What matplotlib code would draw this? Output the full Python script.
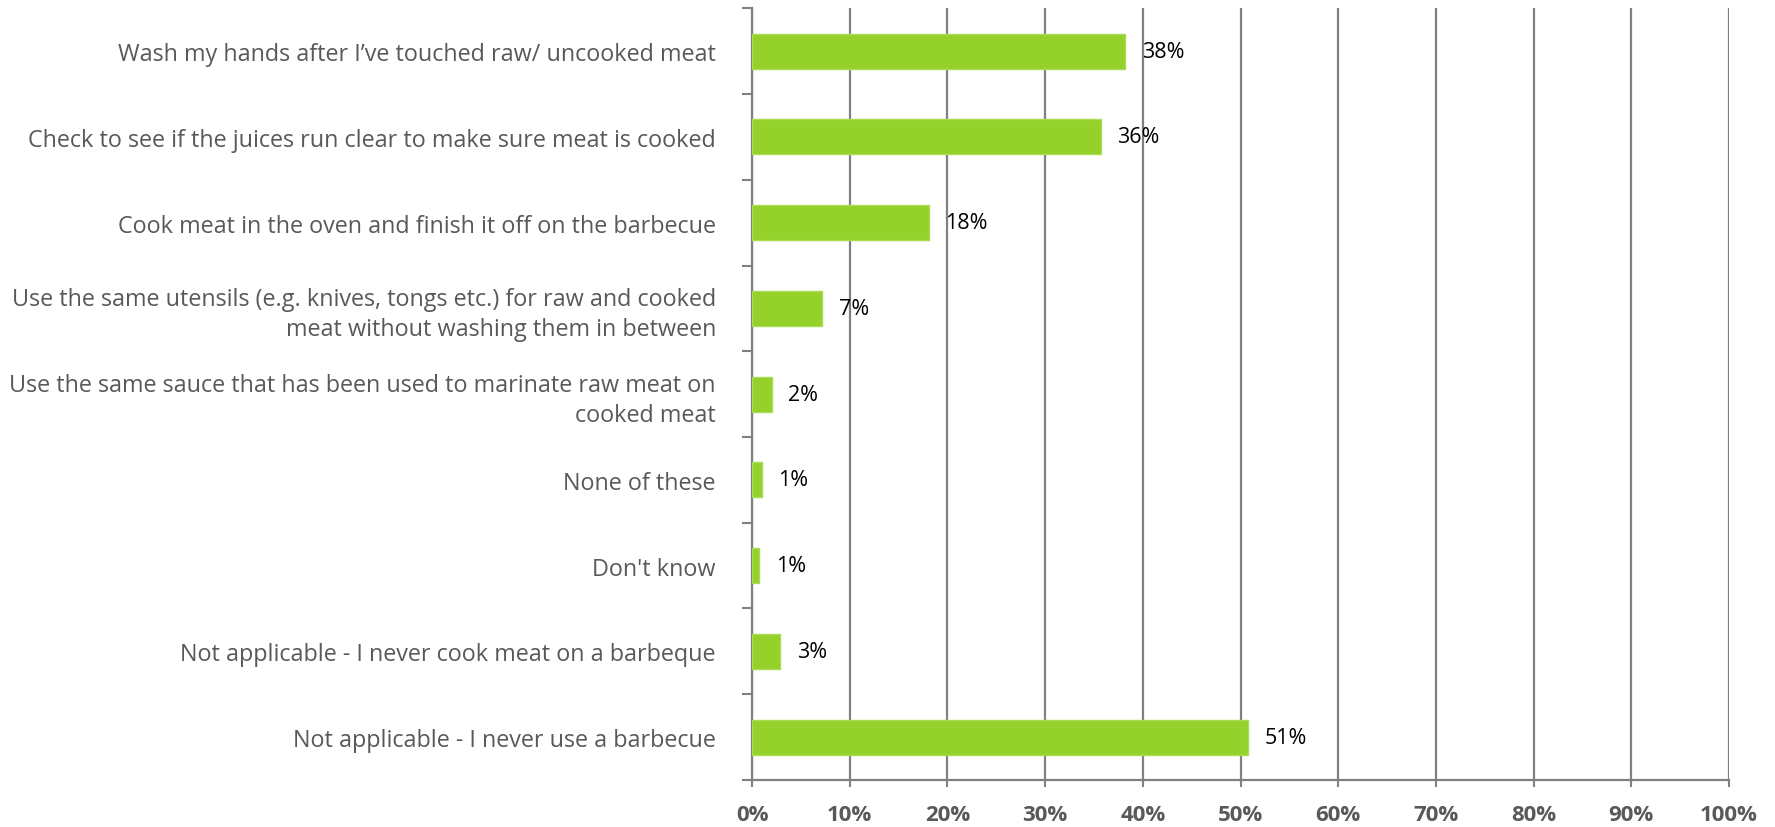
import matplotlib.pyplot as plt
import numpy as np

# data, top to bottom
categories = [
    "Wash my hands after I\u2019ve touched raw/ uncooked meat",
    "Check to see if the juices run clear to make sure meat is cooked",
    "Cook meat in the oven and finish it off on the barbecue",
    "Use the same utensils (e.g. knives, tongs etc.) for raw and cooked\nmeat without washing them in between",
    "Use the same sauce that has been used to marinate raw meat on\ncooked meat",
    "None of these",
    "Don't know",
    "Not applicable - I never cook meat on a barbeque",
    "Not applicable - I never use a barbecue",
]
values = [38.2, 35.7, 18.1, 7.2, 2.0, 1.0, 0.75, 2.9, 50.8]
value_labels = ["38%", "36%", "18%", "7%", "2%", "1%", "1%", "3%", "51%"]
xticks = list(range(0, 101, 10))

plt.rcParams['font.family'] = ['Open Sans', 'DejaVu Sans']
grey = '#808080'
green = '#94D12A'

fig = plt.figure(figsize=(17.75, 8.28), dpi=100)
ax = fig.add_axes([0.4237, 0.0568, 0.5504, 0.932])

n = len(categories)
y = np.arange(n)
ax.barh(y, values, height=0.41, color=green, edgecolor='#A8DC55', linewidth=1, zorder=3)
for yi, v, lab in zip(y, values, value_labels):
    ax.text(v + 1.7, yi, lab, va='center', ha='left', fontsize=15.5, color='black', zorder=4)

ax.set_xlim(0, 100)
ax.set_ylim(n - 0.5, -0.5)
ax.set_xticks(xticks)
ax.set_xticklabels([f"{t}%" for t in xticks], fontsize=16, fontweight='bold', color='#595959')
ax.tick_params(axis='x', length=5, width=1.5, color=grey, pad=12)

ax.set_yticks(y)
ax.set_yticklabels(categories, fontsize=16.8, color='#595959', ha='right', linespacing=1.3)
ax.tick_params(axis='y', which='major', length=0, pad=26)
ax.set_yticks(np.arange(-0.5, n, 1), minor=True)
ax.tick_params(axis='y', which='minor', length=7, width=1.5, color=grey)

ax.grid(axis='x', color=grey, linewidth=1.6, zorder=0)
for s in ['top', 'right']:
    ax.spines[s].set_visible(False)
for s in ['left', 'bottom']:
    ax.spines[s].set_color(grey)
    ax.spines[s].set_linewidth(1.6)

fig.savefig('out.png', dpi=100)
